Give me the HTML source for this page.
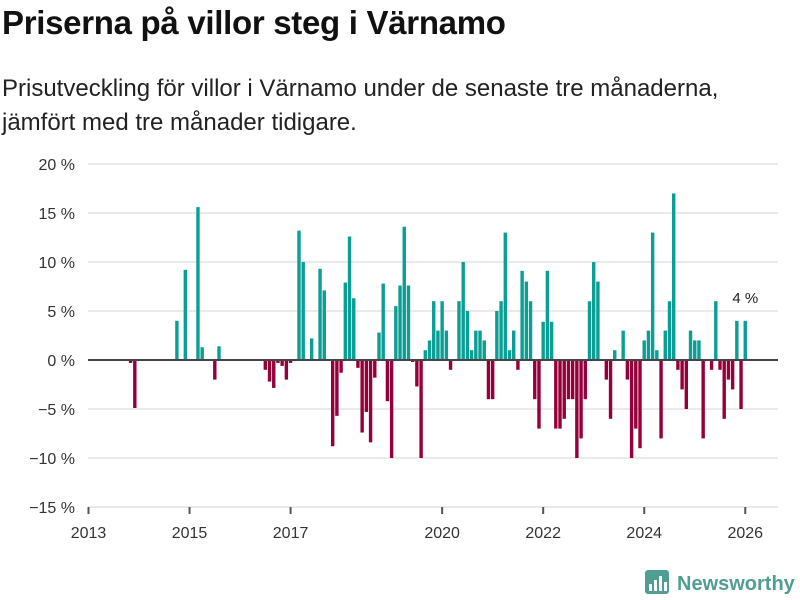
<!DOCTYPE html>
<html><head><meta charset="utf-8"><style>
body{margin:0;background:#fff;font-family:"Liberation Sans",sans-serif;}
#wrap{position:relative;width:800px;height:600px;overflow:hidden;}
h1{position:absolute;left:2px;top:4px;margin:0;font-size:33px;font-weight:bold;color:#111;letter-spacing:-0.3px;white-space:nowrap}
.sub{position:absolute;left:2px;top:72px;margin:0;font-size:24px;line-height:34px;color:#222;white-space:nowrap}
</style></head><body>
<div id="wrap">
<h1>Priserna på villor steg i Värnamo</h1>
<p class="sub">Prisutveckling för villor i Värnamo under de senaste tre månaderna,<br>jämfört med tre månader tidigare.</p>
<svg id="chart" width="800" height="600" style="position:absolute;left:0;top:0"></svg>
</div>
<script>
const dates=["2013-11","2013-12","2014-10","2014-12","2015-03","2015-04","2015-07","2015-08","2016-07","2016-08","2016-09","2016-10","2016-11","2016-12","2017-01","2017-03","2017-04","2017-06","2017-08","2017-09","2017-11","2017-12","2018-01","2018-02","2018-03","2018-04","2018-05","2018-06","2018-07","2018-08","2018-09","2018-10","2018-11","2018-12","2019-01","2019-02","2019-03","2019-04","2019-05","2019-06","2019-07","2019-08","2019-09","2019-10","2019-11","2019-12","2020-01","2020-02","2020-03","2020-05","2020-06","2020-07","2020-08","2020-09","2020-10","2020-11","2020-12","2021-01","2021-02","2021-03","2021-04","2021-05","2021-06","2021-07","2021-08","2021-09","2021-10","2021-11","2021-12","2022-01","2022-02","2022-03","2022-04","2022-05","2022-06","2022-07","2022-08","2022-09","2022-10","2022-11","2022-12","2023-01","2023-02","2023-04","2023-05","2023-06","2023-08","2023-09","2023-10","2023-11","2023-12","2024-01","2024-02","2024-03","2024-04","2024-05","2024-06","2024-07","2024-08","2024-09","2024-10","2024-11","2024-12","2025-01","2025-02","2025-03","2025-05","2025-06","2025-07","2025-08","2025-09","2025-10","2025-11","2025-12","2026-01"];
const values=[-0.3,-4.9,4.0,9.2,15.6,1.3,-2.0,1.4,-1.0,-2.2,-2.85,-0.3,-0.6,-2.0,-0.3,13.2,10.0,2.2,9.3,7.1,-8.8,-5.7,-1.3,7.9,12.6,6.3,-0.8,-7.4,-5.3,-8.4,-1.8,2.8,7.8,-4.2,-10,5.5,7.6,13.6,7.6,-0.2,-2.7,-10,1,2,6,3,6,3,-1,6,10,5,1,3,3,2,-4,-4,5,6,13,1,3,-1,9.1,8,6,-4,-7,3.9,9.1,3.9,-7,-7,-6,-4,-4,-10,-8,-4,6,10,8,-2,-6,1,3,-2,-10,-7,-9,2,3,13,1,-8,3,6,17,-1,-3,-5,3,2,2,-8,-1,6,-1,-6,-2,-3,4,-5,4];
const yTicks=[20,15,10,5,0,-5,-10,-15];
const xTickYears=[2013,2015,2017,2020,2022,2024,2026];
const lastLabel="4 %";

const svg=document.getElementById('chart');
const NS='http://www.w3.org/2000/svg';
const x0=88.5, pxPerMonth=4.21;
function xScale(d){const p=d.split('-');return x0+((+p[0]-2013)*12+(+p[1]-1))*pxPerMonth;}
function yScale(v){return 360-v*9.8;}
function mk(t,a){const e=document.createElementNS(NS,t);for(const k in a)e.setAttribute(k,a[k]);svg.appendChild(e);return e;}

yTicks.forEach(t=>{
  if(t!==0&&t!==-15){const g=mk('line',{x1:88,x2:778,y1:yScale(t),y2:yScale(t),stroke:'#dddddd','stroke-width':1.2});
  
  }
  const l=mk('text',{x:75,y:yScale(t)+6,'text-anchor':'end','font-size':16,fill:'#333','font-family':'Liberation Sans, sans-serif'});
  l.textContent=(t<0?'\u2212'+(-t):t)+' %';
  
  
});
const ax=mk('line',{x1:88,x2:778,y1:yScale(-15),y2:yScale(-15),stroke:'#dddddd','stroke-width':1.2});


xTickYears.forEach(y=>{
  const x=xScale(y+'-01');
  const tk=mk('line',{x1:x,x2:x,y1:yScale(-15),y2:yScale(-15)+7,stroke:'#555','stroke-width':2});
  
  
  const l=mk('text',{x:x,y:538,'text-anchor':'middle','font-size':16,fill:'#333','font-family':'Liberation Sans, sans-serif'});
  l.textContent=y;
  
  
});
dates.forEach((d,i)=>{
  const v=values[i],x=xScale(d),y=yScale(Math.max(v,0)),h=Math.abs(yScale(v)-yScale(0));
  const r=mk('rect',{x:x-1.7,y:y,width:3.4,height:h,fill:v>=0?'#0a9e94':'#96003a'});
  
  
});
const zl=mk('line',{x1:88,x2:778,y1:yScale(0),y2:yScale(0),stroke:'#444','stroke-width':2});


const li=dates.length-1;
const lab=mk('text',{x:xScale(dates[li]),y:yScale(values[li])-18,'text-anchor':'middle','font-size':15,fill:'#222','font-family':'Liberation Sans, sans-serif'});
lab.textContent=lastLabel;



const lg=mk('g',{});


const ic=document.createElementNS(NS,'rect');ic.setAttribute('x',645);ic.setAttribute('y',570);ic.setAttribute('width',24);ic.setAttribute('height',24);ic.setAttribute('rx',3);ic.setAttribute('fill','#4f9e91');lg.appendChild(ic);
[[649,584,3,7],[654,580,3,11],[659,576,3,15],[664,582,3,9]].forEach(b=>{const r=document.createElementNS(NS,'rect');r.setAttribute('x',b[0]);r.setAttribute('y',b[1]);r.setAttribute('width',b[2]);r.setAttribute('height',b[3]);r.setAttribute('fill','#fff');lg.appendChild(r);});
const lt=document.createElementNS(NS,'text');lt.setAttribute('x',677);lt.setAttribute('y',590);lt.setAttribute('font-size',20);lt.setAttribute('font-weight','bold');lt.setAttribute('fill','#4f9e91');lt.setAttribute('font-family','Liberation Sans, sans-serif');lt.textContent='Newsworthy';lg.appendChild(lt);
</script>
</body></html>
